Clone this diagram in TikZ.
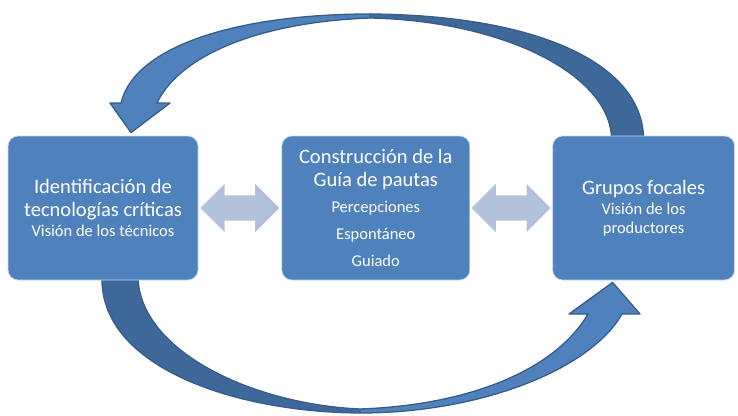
\documentclass[tikz,border=0pt]{standalone}
\usepackage{fontspec}
\setmainfont{Carlito}
\usepackage{xcolor}
\definecolor{boxBlue}{HTML}{4F81BD}
\definecolor{edgeBlue}{HTML}{385D8A}
\definecolor{backBlue}{HTML}{3E6899}
\definecolor{linkBlue}{HTML}{B2C1DC}
\usetikzlibrary{positioning,calc,shapes.arrows}
\pgfdeclarelayer{behind}
\pgfsetlayers{behind,main}
\tikzset{
  stageBox/.style={
    rectangle,
    rounded corners=10pt,
    draw=white!70!boxBlue,
    line width=0.8pt,
    fill=boxBlue,
    text=white,
    minimum height=144pt,
    inner sep=2pt,
    align=center,
    font=\fontsize{20.5}{23}\selectfont
 },
  linkArrow/.style={
    double arrow,
    double arrow head extend=11.5pt,
    fill=linkBlue,
    inner xsep=0pt,
    inner ysep=12.5pt,
    minimum height=79pt
 },
  loopFront/.style={
    fill=boxBlue,
    draw=edgeBlue,
    line width=1.3pt,
    line join=round
 },
  loopBack/.style={
    fill=backBlue,
    draw=edgeBlue,
    line width=1.3pt,
    line join=round
 }
}
\newcommand{\smalltxt}{\fontsize{16.5}{19}\selectfont}

\begin{document}
\begin{tikzpicture}[x=1pt,y=-1pt]
  \useasboundingbox (0,0) rectangle (738,415);

  % the three stages
  \node[stageBox, minimum width=190pt] (ident) at (103,208)
    {Identificación de\\tecnologías críticas\\[-3pt]{\smalltxt Visión de los técnicos}};
  \node[stageBox, minimum width=188pt, right=83pt of ident] (guia)
    {Construcción de la\\Guía de pautas\\[3pt]{\smalltxt Percepciones}\\[4pt]{\smalltxt Espontáneo}\\[4pt]{\smalltxt Guiado}};
  \node[stageBox, minimum width=182pt, right=82pt of guia] (focal)
    {Grupos focales\\[-3pt]{\smalltxt Visión de los}\\[-4pt]{\smalltxt productores}};

  % links between stages
  \node[linkArrow] (linkA) at ($(ident.east)!0.5!(guia.west)$) {};
  \node[linkArrow] (linkB) at ($(guia.east)!0.5!(focal.west)$) {};

  \begin{pgfonlayer}{behind}
    % top loop: focal -> ident
    \draw[loopBack] ($(focal.north)+(0,3)$) .. controls (642,60) and (530,15) .. (370,14)
      -- (370,18) .. controls (505,21) and (610,75) .. ($(focal.north)+(-32,3)$) -- cycle;
    \draw[loopFront] (370,14) .. controls (240,14) and (135,45) .. (121,103)
      -- (110,103) -- ($(ident.north)+(28,-3)$) -- (170,103) -- (157,103)
      .. controls (180,55) and (260,22) .. (370,18) -- cycle;

    % bottom loop: ident -> focal
    \draw[loopBack] ($(ident.south)+(-1,-3)$) .. controls (100,365) and (230,412) .. (360,413)
      -- (360,409) .. controls (250,404) and (140,350) .. ($(ident.south)+(35,-3)$) -- cycle;
    \draw[loopFront] (360,413) .. controls (480,413) and (590,370) .. (622,314)
      -- (640,314) -- ($(focal.south)+(-31,2)$) -- (569,314) -- (588,314)
      .. controls (555,370) and (470,405) .. (360,409) -- cycle;
  \end{pgfonlayer}

\end{tikzpicture}
\end{document}
